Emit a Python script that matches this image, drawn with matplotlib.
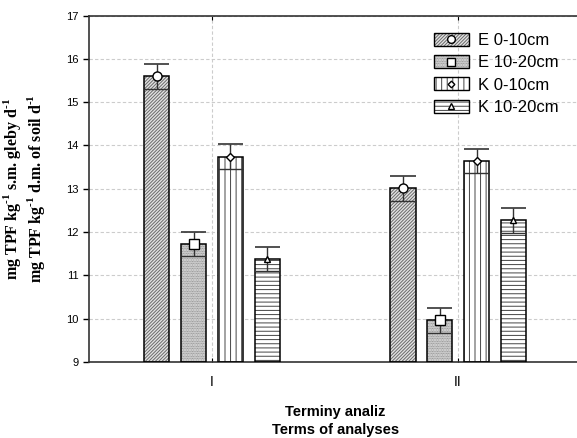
import matplotlib.pyplot as plt
import numpy as np
from matplotlib.patches import Patch, Rectangle
from matplotlib.lines import Line2D
from matplotlib.legend_handler import HandlerBase

plt.rcParams['font.family'] = ['Liberation Sans', 'DejaVu Sans']
plt.rcParams['hatch.linewidth'] = 0.7
plt.rcParams['mathtext.fontset'] = 'custom'
plt.rcParams['mathtext.rm'] = 'Liberation Serif:bold'
plt.rcParams['mathtext.bf'] = 'Liberation Serif:bold'

""" Data """

terms = ['I', 'II']
series = ['E 0-10cm', 'E 10-20cm', 'K 0-10cm', 'K 10-20cm']
means = [[15.60, 13.01],
         [11.72, 9.96],
         [13.74, 13.65],
         [11.38, 12.27]]
errs = [[0.29, 0.29],
        [0.28, 0.29],
        [0.29, 0.28],
        [0.28, 0.29]]

hatches = ['//////////', '..........', '|||', '----']
hcolors = ['#6a6a6a', '#7a7a7a', '#444444', '#444444']
fills = ['#e2e2e2', '#ebebeb', 'white', 'white']
markers = ['o', 's', 'D', '^']
msizes = [6.5, 6.5, 4, 5]

""" Plot """

fig = plt.figure(figsize=(5.77, 4.38), dpi=100)
ax = fig.add_axes([0.1542, 0.1735, 0.853, 0.791])

x = np.arange(len(terms))
width = 0.104
step = 0.15
base = 9

for i in range(len(series)):
    xs = x + (i - 1.5) * step
    m = np.array(means[i])
    e = np.array(errs[i])
    # hatched fill
    ax.bar(xs, m - base, width, bottom=base, color=fills[i], edgecolor=hcolors[i],
           hatch=hatches[i], linewidth=0, zorder=2)
    # black outline
    ax.bar(xs, m - base, width, bottom=base, fill=False, edgecolor='black',
           linewidth=1.1, zorder=3)
    # SE box line, whisker and cap
    ax.hlines(m - e, xs - width / 2, xs + width / 2, color='#333333', lw=1.0, zorder=4)
    ax.vlines(xs, m - e, m + e, color='#333333', lw=1.0, zorder=4)
    ax.hlines(m + e, xs - width / 2, xs + width / 2, color='#333333', lw=1.2, zorder=4)
    ax.plot(xs, m, linestyle='none', marker=markers[i], ms=msizes[i],
            mfc='white', mec='black', mew=1.0, zorder=5)

ax.set_xlim(-0.5, 1.5)
ax.set_ylim(9, 17)
ax.set_xticks(x)
ax.set_xticklabels(terms, fontsize=10)
ax.set_yticks(range(9, 18))
ax.tick_params(axis='y', labelsize=8, length=4, width=1, direction='out')
ax.tick_params(axis='x', top=True, direction='in', length=3, pad=9)
ax.grid(True, linestyle=(0, (3, 2)), color='#cccccc', linewidth=0.8, zorder=0)
ax.set_axisbelow(True)
for s in ['left', 'bottom', 'top']:
    ax.spines[s].set_linewidth(1.2)
    ax.spines[s].set_color('#333333')
ax.spines['right'].set_visible(False)

ax.set_xlabel('Terminy analiz\nTerms of analyses', fontsize=10.5, fontweight='bold',
              labelpad=12, linespacing=1.35)
ax.set_ylabel('mg TPF kg$^{\\text{-}1}$ s.m. gleby d$^{\\text{-}1}$\n'
              'mg TPF kg$^{\\text{-}1}$ d.m. of soil d$^{\\text{-}1}$',
              family=['Liberation Serif'], fontsize=11.5, fontweight='bold',
              labelpad=14, linespacing=1.1)

""" Legend """


class PatchMarker(HandlerBase):
    def __init__(self, hatch, hcolor, fill, marker, ms):
        super().__init__()
        self.hatch = hatch
        self.hcolor = hcolor
        self.fill = fill
        self.marker = marker
        self.ms = ms

    def create_artists(self, legend, orig_handle, xdescent, ydescent, width, height, fontsize, trans):
        h = 9.5
        y0 = height / 2 - ydescent - h / 2
        r1 = Rectangle((-xdescent, y0), width, h, facecolor=self.fill,
                       edgecolor=self.hcolor, hatch=self.hatch, linewidth=0, transform=trans)
        r2 = Rectangle((-xdescent, y0), width, h, fill=False,
                       edgecolor='black', linewidth=1.0, transform=trans)
        mk = Line2D([width / 2 - xdescent], [height / 2 - ydescent], marker=self.marker,
                    ms=self.ms * 0.85, mfc='white', mec='black', mew=1.0, transform=trans)
        return [r1, r2, mk]


handles = [Patch() for _ in series]
hmap = {handles[i]: PatchMarker(hatches[i], hcolors[i], fills[i], markers[i], msizes[i])
        for i in range(4)}
leg = ax.legend(handles, series, handler_map=hmap, loc='upper right',
                bbox_to_anchor=(0.985, 0.995), frameon=False, fontsize=12,
                handlelength=2.1, handleheight=0.9, labelspacing=0.4,
                handletextpad=0.55)
leg.set_zorder(10)

fig.savefig('out.png', dpi=100)
